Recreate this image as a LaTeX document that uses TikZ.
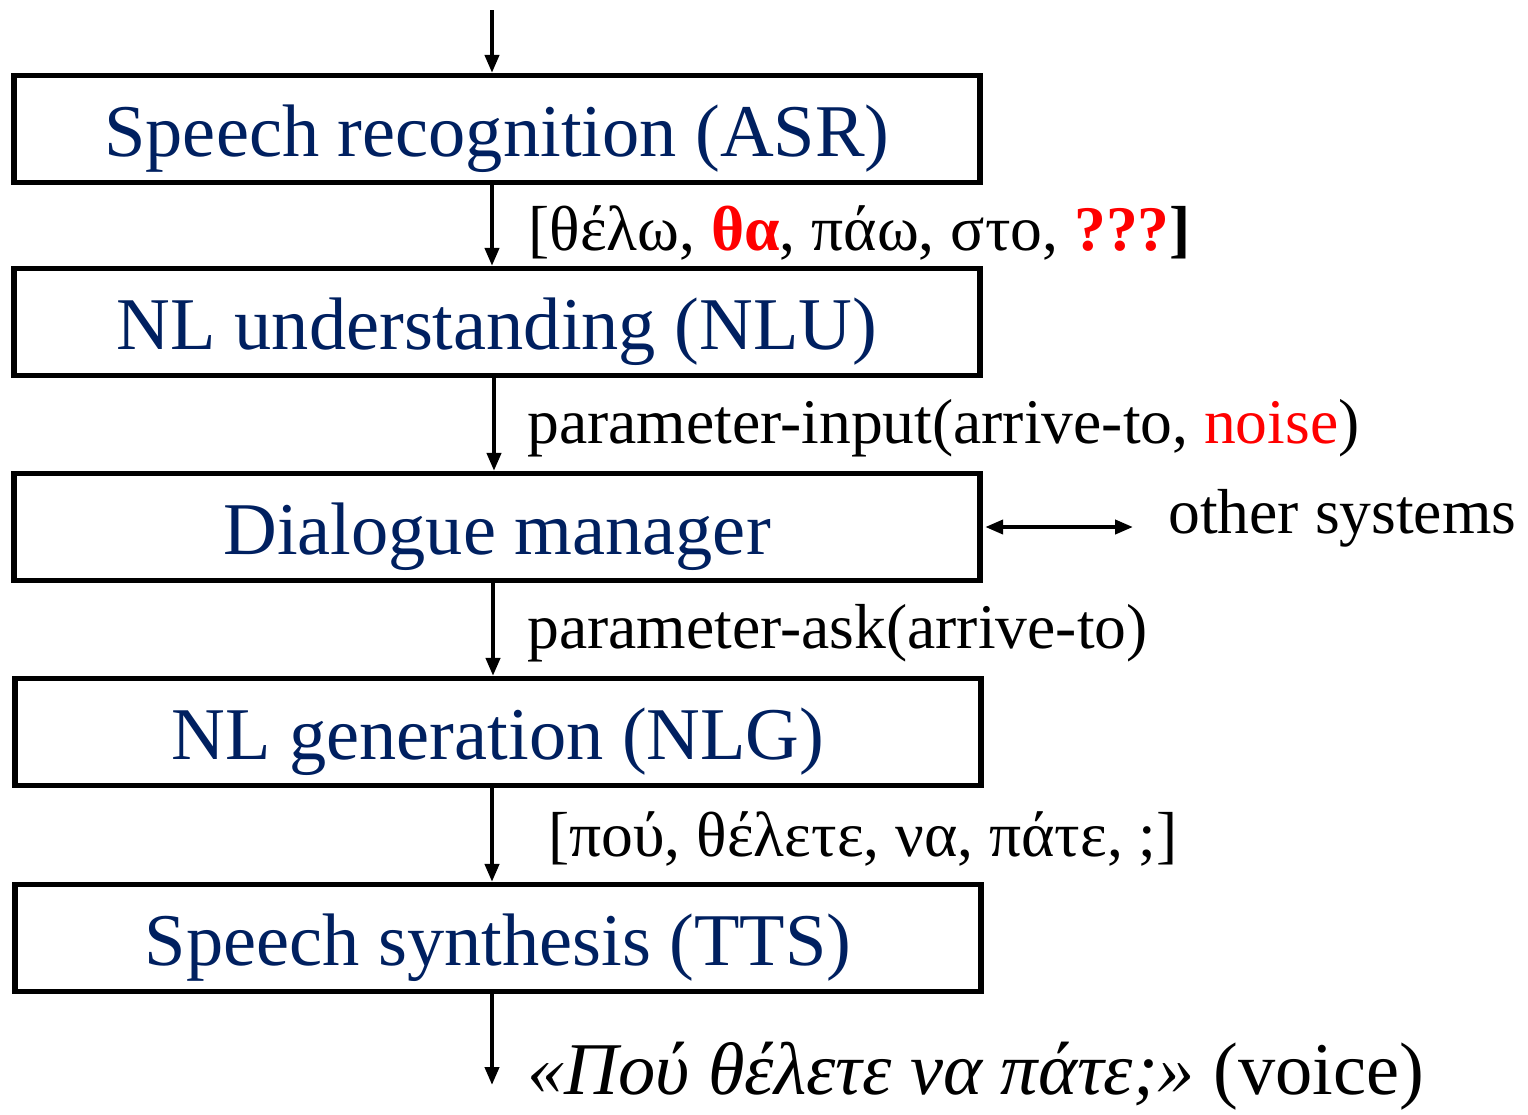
\documentclass[tikz,border=0pt]{standalone}
\usepackage{fontspec}
\setmainfont{Liberation Serif}
\usetikzlibrary{arrows.meta}
\definecolor{navy}{HTML}{002060}
\definecolor{hred}{HTML}{FF0000}
\begin{document}
\begin{tikzpicture}[x=0.5pt,y=-0.5pt,
  box/.style={draw=black, line width=2.6pt, minimum width=483pt, minimum height=53.5pt,
    inner sep=0pt, text height=31pt, text depth=4pt, text=navy, font=\fontsize{37.2}{40}\selectfont},
  lbl/.style={anchor=base west, inner sep=0pt, font=\fontsize{31.8}{34}\selectfont},
  arr/.style={line width=2pt, -{Triangle[length=9pt,width=7pt]}},
  darr/.style={line width=2pt, {Triangle[length=9pt,width=7pt]}-{Triangle[length=9pt,width=7pt]}}]
\useasboundingbox (0,0) rectangle (1528,1115);
\node[box] (asr) at (497,129) {Speech recognition (ASR)};
\node[box] (nlu) at (497,322) {NL understanding (NLU)};
\node[box] (dm)  at (497,527) {Dialogue manager};
\node[box] (nlg) at (498,732) {NL generation (NLG)};
\node[box] (tts) at (498,938) {Speech synthesis (TTS)};
\coordinate (in) at (492,10);
\coordinate (out) at (492,1085);
\coordinate (oth) at (1133,527);
\draw[arr] (in) -- ([xshift=-2.5pt]asr.north);
\draw[arr] ([xshift=-2.5pt]asr.south) -- ([xshift=-2.5pt]nlu.north);
\draw[arr] ([xshift=-1.5pt]nlu.south) -- ([xshift=-1.5pt]dm.north);
\draw[arr] ([xshift=-2pt]dm.south) -- ([xshift=-2.5pt]nlg.north);
\draw[arr] ([xshift=-3pt]nlg.south) -- ([xshift=-3pt]tts.north);
\draw[arr] ([xshift=-3pt]tts.south) -- (out);
\draw[darr] ([xshift=1.3pt]dm.east) -- (oth);
\node[lbl] (l1) at (528,250) {[θέλω, \textcolor{hred}{\textbf{θα}}, πάω, στο, \textcolor{hred}{\textbf{???}}\textbf{]}};
\node[lbl] (l2) at (527,443) {parameter-input(arrive-to, \textcolor{hred}{noise})};
\node[lbl] (l3) at (1168,533) {other systems};
\node[lbl] (l4) at (527,648) {parameter-ask(arrive-to)};
\node[lbl] (l5) at (548,856) {[πού, θέλετε, να, πάτε, ;]};
\node[lbl, font=\fontsize{37.2}{40}\selectfont] (l6) at (527,1094) {\textit{«Πού θέλετε να πάτε;»} (voice)};
\end{tikzpicture}
\end{document}
